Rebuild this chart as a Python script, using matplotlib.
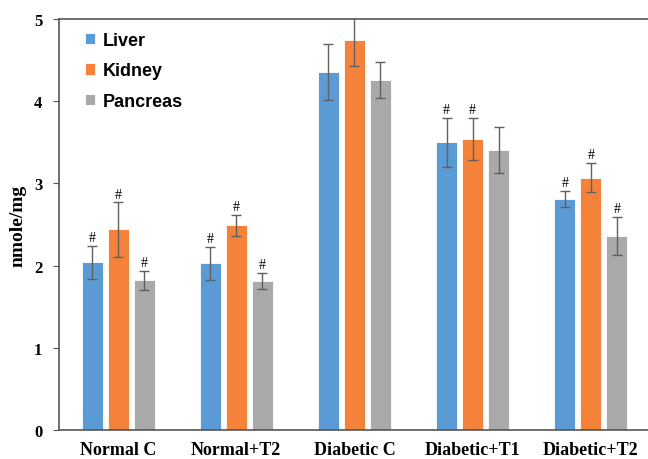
import matplotlib.pyplot as plt
import numpy as np

groups = ["Normal C", "Normal+T2", "Diabetic C", "Diabetic+T1", "Diabetic+T2"]
tissues = ["Liver", "Kidney", "Pancreas"]

liver = [2.04, 2.03, 4.36, 3.50, 2.81]
kidney = [2.44, 2.49, 4.74, 3.54, 3.07]
pancreas = [1.82, 1.81, 4.26, 3.41, 2.36]

liver_err = [0.20, 0.20, 0.34, 0.30, 0.10]
kidney_err = [0.33, 0.13, 0.31, 0.26, 0.18]
pancreas_err = [0.12, 0.10, 0.22, 0.28, 0.23]

# significance marks ("#") per tissue and group
liver_sig = [True, True, False, True, True]
kidney_sig = [True, True, False, True, True]
pancreas_sig = [True, True, False, False, True]

colors = ["#5B9BD5", "#F5823A", "#A9A9A9"]
values = [liver, kidney, pancreas]
errors = [liver_err, kidney_err, pancreas_err]
sigs = [liver_sig, kidney_sig, pancreas_sig]

fig = plt.figure(figsize=(6.48, 4.6), dpi=100)
ax = fig.add_axes([0.091, 0.063, 0.912, 0.8935])

x = np.arange(len(groups))
width = 0.178
step = 0.22

for i, (name, vals, errs, sig) in enumerate(zip(tissues, values, errors, sigs)):
    pos = x + (i - 1) * step
    ax.bar(pos, vals, width, color=colors[i], label=name,
           edgecolor="white", linewidth=0.6, zorder=2)
    ax.errorbar(pos, vals, yerr=errs, fmt="none", ecolor="#606060",
                elinewidth=1, capsize=3.5, capthick=1, zorder=3)
    for p, v, e, s in zip(pos, vals, errs, sig):
        if s:
            ax.text(p, v + e + 0.02, "#", ha="center", va="bottom",
                    fontsize=10, family="Liberation Serif", zorder=4)

ax.set_ylim(0, 5)
ax.set_xlim(-0.5, len(groups) - 0.5)
ax.set_yticks(range(6))
ax.set_xticks(x)
ax.set_xticklabels(groups)
ax.tick_params(axis="x", length=0, pad=8)
ax.tick_params(axis="y", length=4, direction="out", color="#555555", pad=8)
for lbl in ax.get_yticklabels():
    lbl.set_family("Liberation Serif")
    lbl.set_fontweight("bold")
    lbl.set_fontsize(12)
for lbl in ax.get_xticklabels():
    lbl.set_family("Liberation Serif")
    lbl.set_fontweight("bold")
    lbl.set_fontsize(13)

for side in ["left", "bottom", "top", "right"]:
    ax.spines[side].set_color("#555555")
    ax.spines[side].set_linewidth(1.2)

ax.set_ylabel("nmole/mg", family="Liberation Serif", fontweight="bold",
              fontsize=14, labelpad=5)

ax.legend(loc="upper left", bbox_to_anchor=(0.022, 1.0), frameon=False,
          prop={"family": "Liberation Sans", "weight": "bold", "size": 13},
          handlelength=0.6, handleheight=0.6, handletextpad=0.4,
          labelspacing=0.75, borderaxespad=0.3)

fig.savefig("out.png", dpi=100)
